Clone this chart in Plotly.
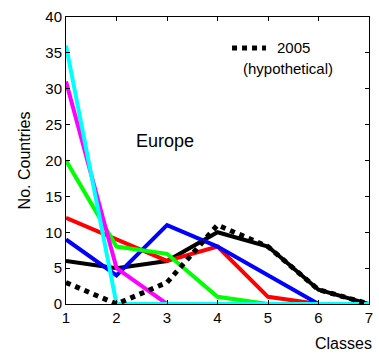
import plotly.graph_objects as go

classes = [1, 2, 3, 4, 5, 6, 7]
black = [6, 5, 6, 10, 8, 2, 0]
red = [12, 9, 6, 8, 1, 0, 0]
blue = [9, 4, 11, 8, 4, 0, 0]
green = [20, 8, 7, 1, 0, 0, 0]
magenta = [31, 5, 0, 0, 0, 0, 0]
cyan = [36, 0, 0, 0, 0, 0, 0]
hypo2005 = [3, 0, 3, 11, 8, 2, 0]

series = [
    (black, "#000000"),
    (red, "#ff0000"),
    (blue, "#0000ff"),
    (green, "#00ff00"),
    (magenta, "#ff00ff"),
    (cyan, "#00ffff"),
]

fig = go.Figure()
for vals, col in series:
    fig.add_trace(go.Scatter(x=classes, y=vals, mode="lines",
                             line=dict(color=col, width=4), showlegend=False))
fig.add_trace(go.Scatter(x=classes, y=hypo2005, mode="lines",
                         line=dict(color="#000000", width=5, dash="dot"), showlegend=False))

fam = "Liberation Sans, Arial, sans-serif"
font = dict(family=fam, size=15, color="#000")
tfont = dict(family=fam, size=16, color="#000")

fig.add_shape(type="line", xref="paper", yref="paper", x0=0.548, x1=0.66, y0=0.892, y1=0.892,
              line=dict(color="#000", width=5, dash="dot"))
fig.add_annotation(xref="paper", yref="paper", x=0.69, y=0.892, text="2005", showarrow=False,
                   xanchor="left", yanchor="middle", font=font)
fig.add_annotation(xref="paper", yref="paper", x=0.578, y=0.822, text="(hypothetical)", showarrow=False,
                   xanchor="left", yanchor="middle", font=font)
fig.add_annotation(x=2.97, y=22.7, text="Europe", showarrow=False, font=dict(family=fam, size=18, color="#000"))
fig.add_annotation(xref="paper", yref="paper", x=1.015, y=-0.1, text="Classes", showarrow=False,
                   xanchor="right", yanchor="top", font=tfont)

axis_common = dict(showgrid=False, zeroline=False, showline=True, linecolor="#000", linewidth=1,
                   mirror="ticks", ticks="inside", ticklen=4, tickcolor="#000", tickfont=font)
fig.update_xaxes(range=[1, 7], tickvals=classes, **axis_common)
fig.update_yaxes(range=[0, 40], tickvals=list(range(0, 41, 5)),
                 title=dict(text="No. Countries", font=tfont, standoff=10), **axis_common)

fig.update_layout(width=379, height=356, margin=dict(l=66, r=6, t=17, b=52),
                  plot_bgcolor="#fff", paper_bgcolor="#fff")
fig.write_html("out.html")
